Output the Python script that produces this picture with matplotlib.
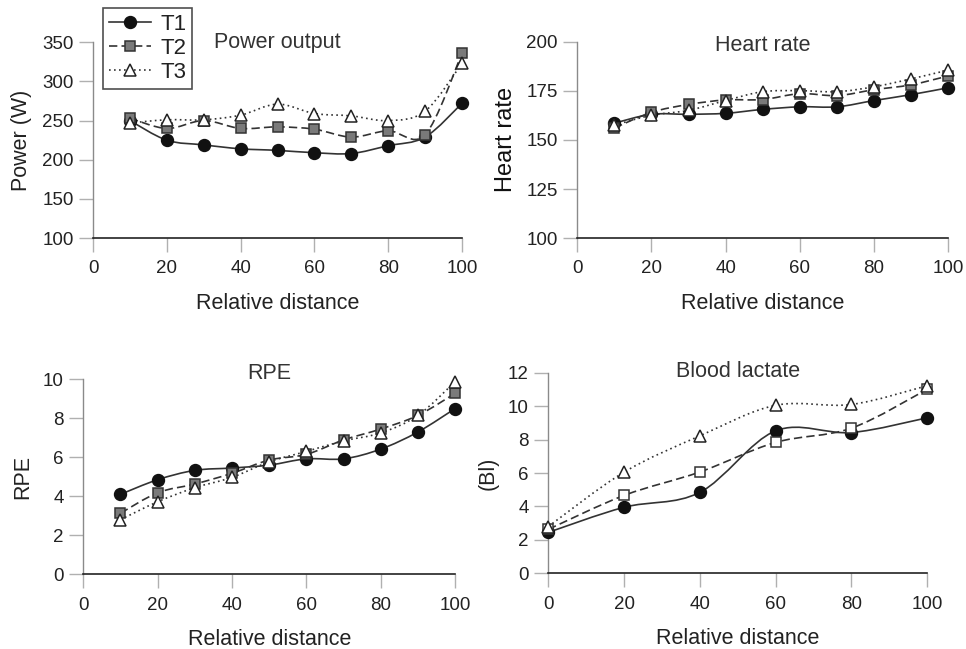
import numpy as np
import matplotlib
matplotlib.use('Agg')
import matplotlib.pyplot as plt
from matplotlib.path import Path
from matplotlib.patches import PathPatch
from matplotlib.lines import Line2D

plt.rcParams['font.family'] = ['Liberation Sans', 'DejaVu Sans']

# data
dist10 = [10, 20, 30, 40, 50, 60, 70, 80, 90, 100]
dist20 = [0, 20, 40, 60, 80, 100]

power_t1 = [250, 225, 219, 214, 212, 209, 208, 218, 229, 272]
power_t2 = [253, 240, 250, 240, 242, 239, 229, 237, 232, 336]
power_t3 = [247, 251, 251, 257, 271, 259, 256, 250, 262, 323]

hr_t1 = [158.5, 163, 163, 163.5, 165.5, 166.8, 166.8, 170, 173, 176.5]
hr_t2 = [156, 164, 168, 170.3, 170.5, 173.5, 172.5, 175.5, 178, 182.5]
hr_t3 = [157.5, 162.5, 165, 170, 174.5, 175, 174.5, 177, 181, 185.5]

rpe_t1 = [4.1, 4.85, 5.33, 5.45, 5.6, 5.92, 5.92, 6.42, 7.3, 8.5]
rpe_t2 = [3.13, 4.18, 4.63, 5.18, 5.86, 6.15, 6.89, 7.45, 8.15, 9.28]
rpe_t3 = [2.8, 3.72, 4.44, 4.97, 5.77, 6.3, 6.84, 7.25, 8.15, 9.88]

lac_t1 = [2.45, 3.95, 4.84, 8.52, 8.42, 9.3]
lac_t2 = [2.63, 4.66, 6.06, 7.83, 8.68, 11.0]
lac_t3 = [2.8, 6.05, 8.22, 10.05, 10.1, 11.22]

trial_names = ['T1', 'T2', 'T3']

txt = '#222222'
line_col = '#333333'
sq_fill = '#7a7a7a'

styles = {
    'T1': dict(ls='-', marker='o', mfc='#111111', mec='#111111', ms=8.5),
    'T2': dict(ls=(0, (5, 2.5)), marker='s', mfc=sq_fill, mec='#333333', ms=7.5),
    'T3': dict(ls=(0, (1, 2)), marker='^', mfc='white', mec='#222222', ms=8.5),
}


def smooth_path(x, y):
    # catmull-rom curve through the data points, drawn as bezier segments
    pts = np.column_stack([x, y]).astype(float)
    verts = [pts[0]]
    codes = [Path.MOVETO]
    n = len(pts)
    for i in range(n - 1):
        p0 = pts[i - 1] if i > 0 else pts[i]
        p1 = pts[i]
        p2 = pts[i + 1]
        p3 = pts[i + 2] if i + 2 < n else pts[i + 1]
        c1 = p1 + (p2 - p0) / 6.0
        c2 = p2 - (p3 - p1) / 6.0
        verts += [c1, c2, p2]
        codes += [Path.CURVE4] * 3
    return Path(verts, codes)


def draw_series(ax, x, y, name, open_square=False):
    st = styles[name]
    patch = PathPatch(smooth_path(x, y), facecolor='none', edgecolor=line_col,
                      lw=1.2, linestyle=st['ls'], zorder=2, clip_on=False)
    ax.add_patch(patch)
    mfc = 'white' if open_square else st['mfc']
    zo = {'T1': 3, 'T2': 4, 'T3': 5}[name]
    ax.plot(x, y, linestyle='none', marker=st['marker'], ms=st['ms'],
            mfc=mfc, mec=st['mec'], mew=1.1, zorder=zo, clip_on=False)


def style_axes(ax, ylim, yticks, title, ylabel, title_y, ylabel_size=15.5):
    ax.set_xlim(0, 100)
    ax.set_ylim(*ylim)
    ax.set_xticks([0, 20, 40, 60, 80, 100])
    ax.set_yticks(yticks)
    for s in ['top', 'right']:
        ax.spines[s].set_visible(False)
    ax.spines['left'].set_color('#8a8a8a')
    ax.spines['left'].set_linewidth(1.0)
    ax.spines['bottom'].set_color('#222222')
    ax.spines['bottom'].set_linewidth(1.2)
    ax.tick_params(axis='both', direction='out', length=10, width=1.0,
                   color='#b0b0b0', labelsize=13.5, labelcolor=txt)
    ax.tick_params(axis='x', pad=6)
    ax.tick_params(axis='y', pad=4)
    ax.yaxis.get_major_ticks()[0].tick1line.set_color('#222222')
    ax.set_xlabel('Relative distance', fontsize=15.5, color=txt, labelpad=11)
    ax.set_ylabel(ylabel, fontsize=ylabel_size, color=txt, labelpad=7)
    ax.text(50, title_y, title, ha='center', va='center', fontsize=15.5,
            color='#333333')


fig = plt.figure(figsize=(9.66, 6.49), dpi=100)

ax1 = fig.add_axes([0.0963, 0.633, 0.382, 0.302])
ax2 = fig.add_axes([0.5976, 0.633, 0.384, 0.303])
ax3 = fig.add_axes([0.0862, 0.1151, 0.385, 0.3005])
ax4 = fig.add_axes([0.5676, 0.1166, 0.392, 0.3091])

for name, ys in zip(trial_names, [power_t1, power_t2, power_t3]):
    draw_series(ax1, dist10, ys, name)
style_axes(ax1, (100, 350), [100, 150, 200, 250, 300, 350], 'Power output',
           'Power (W)', 350)

for name, ys in zip(trial_names, [hr_t1, hr_t2, hr_t3]):
    draw_series(ax2, dist10, ys, name)
style_axes(ax2, (100, 200), [100, 125, 150, 175, 200], 'Heart rate',
           'Heart rate', 198, ylabel_size=17)
ax2.yaxis.label.set_color('#111111')

for name, ys in zip(trial_names, [rpe_t1, rpe_t2, rpe_t3]):
    draw_series(ax3, dist10, ys, name)
style_axes(ax3, (0, 10), [0, 2, 4, 6, 8, 10], 'RPE', 'RPE', 10.3)

for name, ys in zip(trial_names, [lac_t1, lac_t2, lac_t3]):
    draw_series(ax4, dist20, ys, name, open_square=(name == 'T2'))
style_axes(ax4, (0, 12), [0, 2, 4, 6, 8, 10, 12], 'Blood lactate', '(Bl)', 12.05)

# legend sits over the top-left panel, outside the axes frame
handles = []
for name in trial_names:
    st = styles[name]
    handles.append(Line2D([], [], color=line_col, lw=1.2, linestyle=st['ls'],
                          marker=st['marker'], ms=st['ms'], mfc=st['mfc'],
                          mec=st['mec'], mew=1.1))
leg = fig.legend(handles, trial_names, loc='upper left',
                 bbox_to_anchor=(103 / 966, 1 - 8 / 649),
                 bbox_transform=fig.transFigure, fancybox=False,
                 edgecolor='#222222', fontsize=16, handlelength=1.9,
                 handletextpad=0.45, borderpad=0.25, labelspacing=0.15,
                 borderaxespad=0)
leg.get_frame().set_linewidth(1.2)
for t in leg.get_texts():
    t.set_color(txt)

fig.savefig('out.png', dpi=100)
